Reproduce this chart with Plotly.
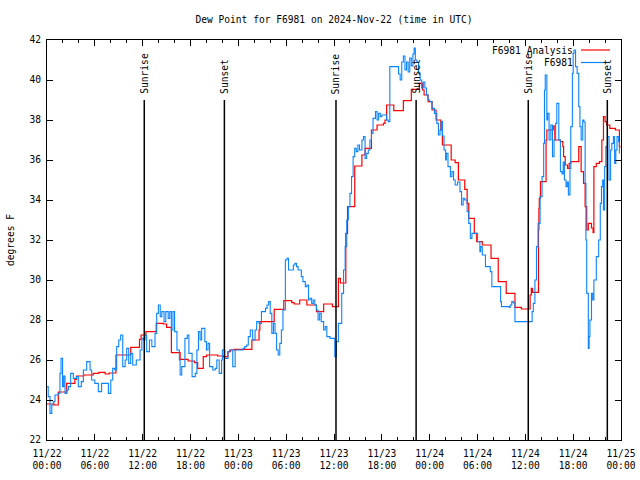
import pandas as pd
import plotly.graph_objects as go

BASE = pd.Timestamp("2024-11-22 00:00")

# Analysis (step) series: hours since 11/22 00:00 UTC, dew point (F)
analysis_hours = [0, 0.9, 1.42, 2.47, 3.5, 3.7, 4.6, 5.8, 6.5, 7.3, 7.8, 8.65, 10.5, 11.6, 11.8, 12.4,
                  13.7, 14.6, 15.0, 15.6, 16.7, 17.7, 18.5, 18.9, 19.6, 20.0, 21.4, 22.1, 22.7, 23.0,
                  23.5, 25.7, 26.6, 26.7, 28.5, 29.7, 30.7, 31.0, 31.7, 32.6, 33.8, 34.7, 35.8, 36.55,
                  36.8, 37.48, 37.7, 38.6, 39.5, 39.9, 40.7, 41.4, 42.2, 42.4, 42.6, 43.5, 44.7, 45.7,
                  46.7, 47.1, 47.3, 47.8, 48.3, 48.8, 49.4, 49.6, 50.7, 51.2, 51.6, 52.4, 52.7, 52.9,
                  53.6, 53.9, 54.6, 55.7, 56.6, 57.6, 58.7, 59.5, 60.6, 60.75, 60.9, 61.65, 61.7,
                  61.75, 61.9, 62.6, 62.7, 63.5, 63.7, 64.4, 64.7, 64.8, 65.0, 65.3, 65.5, 65.7, 66.7,
                  67.0, 67.3, 67.5, 67.7, 67.9, 68.3, 68.5, 68.6, 68.9, 69.3, 69.6, 69.8, 70.0, 70.2,
                  70.6, 71.3, 71.8, 71.95]
analysis_vals = [23.8, 23.75, 24.4, 24.83, 25.03, 25.2, 25.25, 25.33, 25.38, 25.3, 25.35, 26.25, 26.63,
                 27.03, 27.25, 27.42, 27.83, 27.8, 27.63, 26.37, 26.03, 25.95, 25.87, 25.58, 26.17,
                 26.25, 26.2, 26.17, 26.42, 26.5, 26.53, 27.0, 27.5, 27.92, 28.53, 28.97, 28.87, 28.8,
                 29.0, 28.75, 28.42, 28.8, 28.67, 30.08, 29.85, 32.33, 33.67, 35.7, 36.25, 36.58, 37.5,
                 37.75, 37.83, 38.0, 38.75, 38.47, 38.97, 39.53, 39.83, 39.5, 39.25, 38.92, 38.5, 38.0,
                 37.5, 36.75, 36.0, 35.87, 35.0, 34.53, 33.83, 33.08, 32.33, 31.92, 31.75, 31.08,
                 29.92, 29.33, 28.63, 28.55, 29.25, 29.58, 29.38, 32.5, 33.58, 34.08, 34.92, 37.0,
                 37.5, 37.7, 37.0, 36.92, 36.67, 36.17, 35.75, 35.58, 35.83, 35.92, 36.67, 35.42,
                 34.83, 33.67, 32.5, 32.83, 32.6, 32.37, 35.67, 35.83, 35.92, 37.0, 38.17, 37.92,
                 37.75, 37.58, 37.5, 36.67, 36.67]

# Observed series
obs_hours = [0, 0.15, 0.38, 0.6, 0.8, 1.0, 1.4, 1.63, 1.76, 1.95, 2.1, 2.26, 2.5, 2.7, 2.97, 3.3, 3.7,
             3.93, 4.3, 4.56, 4.98, 5.4, 5.6, 6.0, 6.44, 6.85, 7.3, 7.7, 8.0, 8.24, 8.5, 8.74, 9.0,
             9.24, 9.5, 9.8, 10.0, 10.25, 10.5, 10.75, 11.2, 11.67, 11.9, 12.1, 12.3, 12.5, 12.85,
             13.15, 13.55, 13.76, 13.97, 14.2, 14.4, 14.68, 14.9, 15.2, 15.4, 15.6, 15.8, 16.0, 16.3,
             16.6, 16.7, 16.9, 17.3, 17.6, 17.8, 18.2, 18.6, 18.8, 19.0, 19.2, 19.4, 19.7, 19.8, 20.0,
             20.2, 20.4, 20.8, 21.1, 21.3, 21.6, 21.9, 22.0, 22.3, 22.7, 22.9, 23.3, 23.6, 24.2, 24.6,
             24.8, 25.05, 25.25, 25.5, 25.8, 26.1, 26.3, 26.6, 26.9, 27.4, 27.6, 27.8, 28.0, 28.2,
             28.4, 28.6, 28.8, 29.0, 29.2, 29.4, 29.6, 29.9, 30.1, 30.3, 30.7, 30.9, 31.1, 31.3, 31.5,
             31.9, 32.1, 32.4, 32.6, 32.8, 33.0, 33.2, 33.4, 33.6, 33.8, 34.0, 34.2, 34.4, 34.7, 34.9,
             35.1, 35.5, 35.9, 36.1, 36.3, 36.55, 36.97, 37.2, 37.4, 37.6, 37.8, 38.0, 38.2, 38.4,
             38.6, 38.8, 39.0, 39.2, 39.5, 39.7, 39.9, 40.1, 40.3, 40.5, 40.7, 40.9, 41.2, 41.4, 41.6,
             41.8, 42.0, 42.4, 42.6, 42.8, 43.0, 43.8, 44.1, 44.3, 44.5, 44.7, 44.9, 45.1, 45.3, 45.5,
             45.7, 45.9, 46.05, 46.2, 46.4, 46.6, 46.8, 47.0, 47.2, 47.4, 47.6, 47.8, 48.0, 48.3,
             48.6, 48.9, 49.1, 49.3, 49.45, 49.6, 49.8, 50.0, 50.1, 50.3, 50.6, 50.8, 51.0, 51.2,
             51.5, 51.8, 52.0, 52.2, 52.4, 52.7, 52.9, 53.1, 53.3, 53.7, 54.0, 54.3, 54.4, 54.6, 54.8,
             55.0, 55.4, 55.6, 55.8, 56.7, 56.9, 57.0, 58.0, 58.1, 58.3, 58.5, 58.7, 60.7, 60.85,
             61.0, 61.2, 61.4, 61.6, 61.85, 62.1, 62.3, 62.4, 62.5, 62.7, 62.8, 62.98, 63.2, 63.4,
             63.6, 63.8, 63.95, 64.2, 64.4, 64.6, 64.75, 64.9, 65.1, 65.25, 65.4, 65.6, 65.7, 65.9,
             66.0, 66.1, 66.3, 66.5, 66.7, 66.85, 67.0, 67.2, 67.35, 67.5, 67.6, 67.7, 67.9, 68.0,
             68.1, 68.3, 68.45, 68.6, 68.9, 69.2, 69.4, 69.55, 69.7, 69.8, 69.95, 70.1, 70.3, 70.5,
             70.7, 70.85, 71.05, 71.2, 71.35, 71.5, 71.7, 71.8]
obs_vals = [24.67, 24.17, 23.33, 23.75, 23.92, 24.25, 24.33, 25.33, 26.08, 24.67, 25.2, 24.33, 24.5,
            24.67, 25.33, 25.08, 25.17, 24.67, 24.92, 25.5, 25.92, 25.5, 25.0, 24.83, 24.42, 24.83,
            24.83, 24.33, 25.0, 25.58, 25.5, 26.67, 27.0, 27.25, 25.67, 26.0, 26.58, 25.83, 26.33,
            25.75, 26.0, 26.5, 27.08, 27.0, 27.25, 26.42, 27.0, 26.67, 27.33, 28.33, 28.75, 28.17,
            28.42, 27.92, 28.42, 28.08, 28.42, 27.5, 28.42, 27.42, 26.5, 26.0, 25.25, 25.67, 27.08,
            27.25, 26.33, 25.17, 25.33, 26.5, 27.42, 27.0, 27.58, 27.58, 26.92, 26.5, 26.83, 25.67,
            25.5, 25.58, 26.0, 25.33, 26.0, 26.5, 26.08, 26.42, 26.5, 25.67, 26.5, 26.5, 26.58,
            26.67, 26.75, 27.17, 27.5, 27.0, 27.5, 27.92, 27.83, 28.42, 28.58, 28.75, 28.92, 28.33,
            27.33, 27.83, 27.33, 26.5, 26.25, 26.83, 27.5, 28.5, 31.0, 31.08, 30.5, 30.5, 30.75,
            30.83, 30.67, 30.5, 30.17, 29.92, 29.67, 29.75, 29.0, 29.08, 28.83, 29.0, 28.75, 28.5,
            28.0, 28.33, 27.92, 27.5, 27.67, 27.17, 27.08, 27.08, 26.17, 26.92, 27.83, 29.33, 30.5,
            31.67, 33.0, 33.67, 34.33, 35.17, 36.17, 36.58, 36.42, 36.75, 36.5, 37.0, 37.17, 36.08,
            36.33, 36.5, 37.0, 37.33, 38.08, 38.42, 38.0, 38.33, 38.17, 38.25, 38.25, 38.0, 37.92,
            40.67, 40.67, 40.3, 40.0, 40.9, 41.2, 40.5, 40.9, 40.4, 41.1, 40.7, 41.3, 41.6, 41.0,
            40.9, 40.33, 40.0, 39.6, 39.9, 39.6, 39.25, 39.0, 38.92, 38.58, 38.33, 37.83, 37.25,
            37.5, 37.92, 37.2, 36.5, 36.0, 36.33, 35.67, 35.17, 35.42, 35.0, 34.75, 34.9, 34.42,
            33.75, 34.08, 34.0, 33.42, 32.83, 32.08, 32.33, 32.33, 31.92, 31.42, 31.67, 31.25, 31.25,
            30.67, 30.67, 30.42, 29.67, 29.67, 28.92, 28.67, 28.63, 28.75, 28.92, 28.85, 27.92,
            27.92, 28.42, 28.83, 30.0, 31.67, 32.83, 34.17, 35.17, 36.83, 39.5, 40.25, 38.0, 38.33,
            37.0, 37.75, 36.17, 37.0, 37.83, 38.83, 37.0, 35.42, 35.3, 35.9, 35.0, 34.67, 34.9,
            34.25, 35.58, 37.67, 40.33, 41.33, 41.5, 40.67, 40.33, 38.67, 37.67, 37.0, 38.0, 37.9,
            34.83, 32.0, 29.33, 26.58, 27.17, 28.0, 29.33, 29.0, 30.0, 31.17, 32.0, 33.83, 34.67,
            35.0, 33.5, 35.67, 36.67, 37.17, 35.0, 36.5, 36.83, 37.17, 35.83, 36.5, 37.17, 36.92,
            36.33]

sun_times = ["2024-11-22 12:12", "2024-11-22 22:15", "2024-11-23 12:15",
             "2024-11-23 22:18", "2024-11-24 12:22", "2024-11-24 22:17"]
sun_labels = ["Sunrise", "Sunset", "Sunrise", "Sunset", "Sunrise", "Sunset"]
sun_line_top = 39.0

y_ticks = list(range(22, 43, 2))

FONT = "DejaVu Sans Mono"
FS = 9.6
RED = "#ff0000"
BLUE = "#0a84ff"

def to_time(hours):
    return [BASE + pd.Timedelta(hours=h) for h in hours]

fig = go.Figure()
fig.add_trace(go.Scatter(x=to_time(analysis_hours), y=analysis_vals, mode="lines",
                         line=dict(color=RED, width=1.2, shape="hv"),
                         name="F6981 Analysis", showlegend=False))
fig.add_trace(go.Scatter(x=to_time(obs_hours), y=obs_vals, mode="lines",
                         line=dict(color=BLUE, width=1.1, shape="hv"),
                         name="F6981", showlegend=False))

for t, lab in zip(sun_times, sun_labels):
    fig.add_shape(type="line", x0=t, x1=t, y0=22, y1=sun_line_top, xref="x", yref="y",
                  line=dict(color="black", width=1.5), layer="above")
    fig.add_annotation(x=t, y=sun_line_top, xref="x", yref="y", text=lab, textangle=-90,
                       showarrow=False, xanchor="center", yanchor="bottom", yshift=4,
                       font=dict(family=FONT, size=FS, color="black"))

# gnuplot-style key (text, then sample line on its right)
legend_items = [("F6981 Analysis", RED), ("F6981", BLUE)]
for i, (txt, col) in enumerate(legend_items):
    ypix = 50 + i * 12.5
    yp = 1 - (ypix - 40) / 400
    fig.add_annotation(x=(575 - 47) / 574, y=yp, xref="paper", yref="paper", text=txt,
                       showarrow=False, xanchor="right", yanchor="middle",
                       font=dict(family=FONT, size=FS, color="black"))
    fig.add_shape(type="line", x0=(581 - 47) / 574, x1=(610 - 47) / 574, y0=yp, y1=yp,
                  xref="paper", yref="paper", line=dict(color=col, width=1.2))

fig.add_annotation(x=(10 - 47) / 574, y=0.5, xref="paper", yref="paper", text="degrees F",
                   textangle=-90, showarrow=False, xanchor="center", yanchor="middle",
                   font=dict(family=FONT, size=FS, color="black"))

fig.update_layout(
    width=640, height=480,
    margin=dict(l=47, r=19, t=40, b=40, autoexpand=False),
    paper_bgcolor="white", plot_bgcolor="white",
    font=dict(family=FONT, size=FS, color="black"),
    title=dict(text="Dew Point for F6981 on 2024-Nov-22 (time in UTC)", x=0.5, xref="paper",
               y=1 - 20 / 480, yref="container", xanchor="center", yanchor="middle",
               font=dict(family=FONT, size=FS, color="black")),
    showlegend=False,
)
fig.update_xaxes(
    type="date", range=["2024-11-22 00:00", "2024-11-25 00:00"], automargin=False,
    tick0="2024-11-22 00:00", dtick=6 * 3600 * 1000, tickformat="%m/%d<br>%H:%M",
    ticks="inside", ticklen=6, tickcolor="black", tickwidth=1, ticklabelstandoff=4,
    showline=True, linecolor="black", linewidth=1.2, mirror="ticks",
    showgrid=False, zeroline=False,
    minor=dict(dtick=2 * 3600 * 1000, tick0="2024-11-22 00:00", ticks="inside", ticklen=3,
               tickcolor="black", showgrid=False),
    tickfont=dict(family=FONT, size=FS, color="black"),
)
fig.update_yaxes(
    range=[22, 42], tickvals=y_ticks, ticks="inside", ticklen=6, tickcolor="black",
    ticklabelstandoff=3,
    showline=True, linecolor="black", linewidth=1.2, mirror="ticks", automargin=False,
    showgrid=False, zeroline=False,
    tickfont=dict(family=FONT, size=FS, color="black"),
)

fig.write_html("out.html", config={"displayModeBar": False},
               post_script="document.body.style.margin='0';document.body.style.overflow='hidden';")
